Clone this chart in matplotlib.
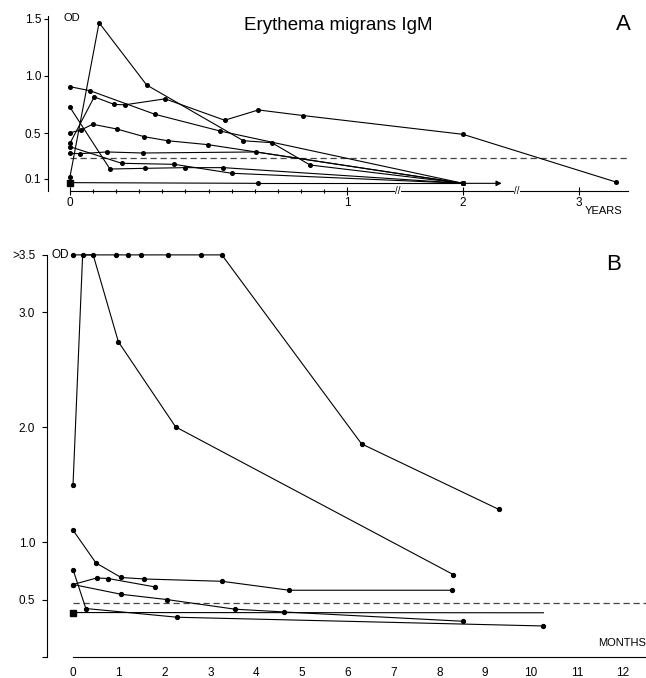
import numpy as np
import matplotlib
matplotlib.use("Agg")
import matplotlib.pyplot as plt
from matplotlib.ticker import FixedLocator, FixedFormatter, NullFormatter

plt.rcParams['font.family'] = ['Liberation Sans', 'DejaVu Sans']

# ---------------- Panel A data (x in months, OD) ----------------
a_peak_m = [0, 1.26, 3.32, 7.51, 8.74, 10.4, 24]
a_peak_od = [0.12, 1.465, 0.921, 0.434, 0.417, 0.222, 0.062]

a_s09_m = [0, 0.87, 3.68, 6.5, 24]
a_s09_od = [0.906, 0.871, 0.665, 0.519, 0.062]

a_long_m = [0, 1.05, 1.92, 2.38, 4.12, 6.7, 8.16, 10.1, 24, 39.8]
a_long_od = [0.412, 0.817, 0.751, 0.748, 0.800, 0.613, 0.703, 0.654, 0.49, 0.074]

a_s05_m = [0, 0.48, 0.98, 2.02, 3.22, 4.23, 5.97, 24]
a_s05_od = [0.504, 0.528, 0.578, 0.537, 0.469, 0.434, 0.40, 0.062]

a_s072_m = [0, 1.73, 3.25, 4.98, 6.64, 24]
a_s072_od = [0.726, 0.187, 0.193, 0.199, 0.199, 0.062]

a_s038_m = [0, 2.24, 4.52, 7.0, 24]
a_s038_od = [0.382, 0.237, 0.228, 0.15, 0.062]

a_s032_m = [0, 0.43, 1.59, 3.15, 8.06, 24]
a_s032_od = [0.324, 0.321, 0.336, 0.327, 0.336, 0.062]

a_sq_m = [0, 8.16, 24]
a_sq_od = [0.068, 0.062, 0.062]
a_arrow_end_m = 28

a_cutoff = 0.285
a_yticks = [0.1, 0.5, 1.0, 1.5]
a_ylabels = ['0.1', '0.5', '1.0', '1.5']
a_xticks = [0, 1, 2, 3]
a_xlabels = ['0', '1', '2', '3']
a_breaks = [1.44, 2.465]

# ---------------- Panel B data (x in months, OD) ----------------
b_top_m = [0, 0.93, 1.19, 1.48, 2.07, 2.80, 3.25, 6.30, 9.30]
b_top_od = [3.5, 3.5, 3.5, 3.5, 3.5, 3.5, 3.5, 1.855, 1.284]

b_p2_m = [0, 0.21, 0.44, 0.99, 2.24, 8.30]
b_p2_od = [1.496, 3.5, 3.5, 2.744, 2.003, 0.718]

b_p3_m = [0, 0.5, 1.05, 1.56, 3.25, 4.72, 8.28]
b_p3_od = [1.104, 0.819, 0.692, 0.679, 0.659, 0.581, 0.581]

b_p4_m = [0, 0.52, 0.77, 1.79]
b_p4_od = [0.631, 0.688, 0.683, 0.610]

b_p5_m = [0, 1.05, 2.05, 3.54, 4.61, 8.52]
b_p5_od = [0.631, 0.546, 0.50, 0.416, 0.392, 0.311]

b_p6_m = [0, 0.28, 2.28, 10.27]
b_p6_od = [0.761, 0.422, 0.346, 0.270]

b_sq_m = [0, 10.27]
b_sq_od = [0.387, 0.385]

b_cutoff = 0.474
b_yticks = [0, 0.5, 1.0, 2.0, 3.0, 3.5]
b_ylabels = ['', '0.5', '1.0', '2.0', '3.0', '>3.5']
b_xticks = list(range(13))
b_xlabels = [str(v) for v in b_xticks]

# ---------------- figure ----------------
W, H = 646, 678
fig = plt.figure(figsize=(W / 100, H / 100), dpi=100)


def fx(px):
    return px / W


def fy(py):
    return 1 - py / H


R = 116 / 277.0


def fwd(t):
    t = np.asarray(t, dtype=float)
    return np.where(t <= 1, t, 1 + (t - 1) * R)


def inv(u):
    u = np.asarray(u, dtype=float)
    return np.where(u <= 1, u, 1 + (u - 1) / R)


LW = 0.8
# ---- Panel A ----
axA = fig.add_axes([fx(48), fy(191), (628 - 48) / W, (191 - 16) / H])
axA.set_xscale('function', functions=(fwd, inv))
axA.set_xlim(-0.0794, 3.422)
axA.set_ylim(-0.005, 1.5236)

for xs, ys in [(a_peak_m, a_peak_od), (a_s09_m, a_s09_od), (a_long_m, a_long_od),
               (a_s05_m, a_s05_od), (a_s072_m, a_s072_od), (a_s038_m, a_s038_od),
               (a_s032_m, a_s032_od), (a_sq_m[1:], a_sq_od[1:])]:
    axA.plot(np.array(xs) / 12.0, ys, '-o', color='k', lw=LW, ms=2.6, mfc='k', mec='k',
             clip_on=False, zorder=3)
axA.plot([a_sq_m[0] / 12.0, a_sq_m[1] / 12.0], a_sq_od[:2], '-', color='k', lw=LW, zorder=3)
axA.plot([a_sq_m[0] / 12.0], [a_sq_od[0]], 's', color='k', ms=4.2, clip_on=False, zorder=4)
axA.annotate('', xy=(a_arrow_end_m / 12.0, a_sq_od[-1]), xytext=(a_sq_m[-1] / 12.0, a_sq_od[-1]),
             arrowprops=dict(arrowstyle='-|>', color='k', lw=LW, mutation_scale=8,
                             shrinkA=0, shrinkB=0))
axA.plot([0, 3.41], [a_cutoff, a_cutoff], ls=(0, (5, 3)), color='#444444', lw=0.9, zorder=2)

for s in ['top', 'right']:
    axA.spines[s].set_visible(False)
axA.spines['left'].set_linewidth(LW)
axA.spines['bottom'].set_linewidth(LW)
axA.spines['bottom'].set_bounds(0, 3.422)

axA.yaxis.set_major_locator(FixedLocator(a_yticks))
axA.yaxis.set_major_formatter(FixedFormatter(a_ylabels))
axA.tick_params(axis='y', direction='out', length=3, width=LW, labelsize=8.5, pad=2)
axA.xaxis.set_major_locator(FixedLocator(a_xticks))
axA.xaxis.set_major_formatter(FixedFormatter(a_xlabels))
axA.xaxis.set_minor_locator(FixedLocator([m / 12.0 for m in range(1, 12)]))
axA.xaxis.set_minor_formatter(NullFormatter())
axA.tick_params(axis='x', which='major', direction='inout', length=6, width=LW,
                labelsize=8.5, pad=1)
axA.tick_params(axis='x', which='minor', direction='inout', length=3.5, width=LW)
for b in a_breaks:
    axA.text(b, 0, '//', transform=axA.get_xaxis_transform(), ha='center', va='center',
             fontsize=7, clip_on=False,
             bbox=dict(fc='white', ec='none', pad=0.3))

fig.text(fx(63), fy(18), 'OD', fontsize=8, ha='left', va='center')
fig.text(fx(338), fy(26), 'Erythema migrans IgM', fontsize=13.5, ha='center', va='center')
fig.text(fx(623), fy(25), 'A', fontsize=16, ha='center', va='center')
fig.text(fx(585), fy(211), 'YEARS', fontsize=8, ha='left', va='center')

# ---- Panel B ----
axB = fig.add_axes([fx(47), fy(657), (646 - 47) / W, (657 - 252.6) / H])
axB.set_xlim(-0.568, 12.51)
axB.set_ylim(0, 3.52)

for xs, ys in [(b_top_m, b_top_od), (b_p2_m, b_p2_od), (b_p3_m, b_p3_od),
               (b_p4_m, b_p4_od), (b_p5_m, b_p5_od), (b_p6_m, b_p6_od)]:
    axB.plot(xs, ys, '-o', color='k', lw=LW, ms=2.8, mfc='k', mec='k', clip_on=False, zorder=3)
axB.plot(b_sq_m, b_sq_od, '-', color='k', lw=LW, zorder=3)
axB.plot([b_sq_m[0]], [b_sq_od[0]], 's', color='k', ms=4.8, clip_on=False, zorder=4)
axB.plot([0, 12.5], [b_cutoff, b_cutoff], ls=(0, (5, 3)), color='#444444', lw=0.9, zorder=2)

for s in ['top', 'right']:
    axB.spines[s].set_visible(False)
axB.spines['left'].set_linewidth(LW)
axB.spines['bottom'].set_linewidth(LW)
axB.spines['left'].set_bounds(0, 3.5)
axB.spines['bottom'].set_bounds(0, 12.51)

axB.yaxis.set_major_locator(FixedLocator(b_yticks))
axB.yaxis.set_major_formatter(FixedFormatter(b_ylabels))
axB.tick_params(axis='y', direction='out', length=3.5, width=LW, labelsize=8.5, pad=5)
axB.xaxis.set_major_locator(FixedLocator(b_xticks))
axB.xaxis.set_major_formatter(FixedFormatter(b_xlabels))
axB.xaxis.set_minor_locator(FixedLocator([6, 12]))
axB.xaxis.set_minor_formatter(NullFormatter())
axB.tick_params(axis='x', which='major', length=0, labelsize=8.5, pad=7)
axB.tick_params(axis='x', which='minor', direction='inout', length=6, width=LW)

fig.text(fx(52), fy(255), 'OD', fontsize=8.5, ha='left', va='center')
fig.text(fx(614), fy(265), 'B', fontsize=16, ha='center', va='center')
fig.text(fx(646), fy(643), 'MONTHS', fontsize=8, ha='right', va='center')

fig.savefig('out.png', dpi=100)
